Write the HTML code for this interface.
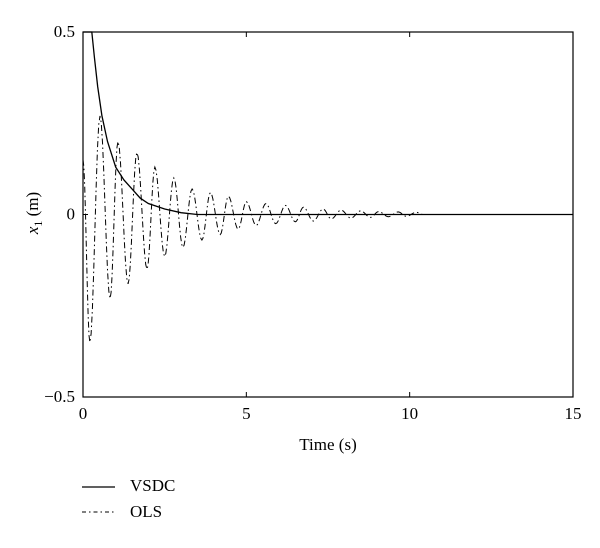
<!DOCTYPE html>
<html><head><meta charset="utf-8"><style>
body{margin:0;background:#fff}
svg text{font-family:"Liberation Serif",serif;font-size:17px;fill:#000}
</style></head><body>
<svg width="600" height="543" viewBox="0 0 600 543">
<g id="plot"></g>
<g id="axes"></g>
<text x="328" y="450" text-anchor="middle">Time (s)</text>
<text transform="translate(38,213) rotate(-90)" text-anchor="middle"><tspan font-style="italic">x</tspan><tspan font-size="12" dy="4">1</tspan><tspan dy="-4"> (m)</tspan></text>
<g>
<line x1="82" y1="487" x2="115" y2="487" stroke="#000" stroke-width="1.3"/>
<text x="130" y="491">VSDC</text>
<line x1="82" y1="512" x2="115" y2="512" stroke="#000" stroke-width="1" stroke-dasharray="4 3 1.5 3"/>
<text x="130" y="517">OLS</text>
</g>
</svg>
<script>
const xTicks=[0,5,10,15];
const yTicks=[0.5,0,-0.5];
const yTickLabels=["0.5","0","\u22120.5"];
const vsdcT=[0,0.27,0.35,0.45,0.58,0.75,1.0,1.25,1.5,1.75,2,2.5,3,3.5,15];
const vsdcV=[0.5,0.5,0.43,0.35,0.27,0.2,0.13,0.095,0.07,0.045,0.03,0.015,0.005,0,0];
const olsT=[0,0.21,0.52,0.83,1.07,1.38,1.65,1.96,2.2,2.5,2.78,3.06,3.34,3.64,3.9,4.2,4.45,4.75,5.0,5.3,5.6,5.9,6.2,6.5,6.75,7.05,7.35,7.6,7.9,8.2,8.5,8.8,9.05,9.35,9.65,9.9,10.2,10.4];
const olsV=[0.15,-0.35,0.27,-0.23,0.2,-0.19,0.17,-0.15,0.13,-0.115,0.1,-0.09,0.07,-0.07,0.06,-0.055,0.05,-0.04,0.035,-0.03,0.03,-0.025,0.025,-0.02,0.02,-0.018,0.015,-0.012,0.012,-0.01,0.01,-0.008,0.008,-0.006,0.007,-0.005,0.006,0];
const L=83,R=573,T=32,B=397;
const X=t=>L+(t-0)/(15-0)*(R-L);
const Y=v=>T+(0.5-v)/(1)*(B-T);
const NS="http://www.w3.org/2000/svg";
const plot=document.getElementById('plot'),axes=document.getElementById('axes');
function mk(tag,attrs,parent){const e=document.createElementNS(NS,tag);for(const k in attrs)e.setAttribute(k,attrs[k]);parent.appendChild(e);return e;}
let d=vsdcT.map((t,i)=>(i?'L':'M')+X(t).toFixed(2)+' '+Y(vsdcV[i]).toFixed(2)).join(' ');
const v=mk('path',{d:d,fill:'none',stroke:'#000','stroke-width':1.3},plot);


let pd='M'+X(olsT[0]).toFixed(2)+' '+Y(olsV[0]).toFixed(2);
for(let i=1;i<olsT.length;i++){const t0=olsT[i-1],t1=olsT[i],v0=olsV[i-1],v1=olsV[i];
for(let k=1;k<=8;k++){const f=k/8,s=(1-Math.cos(Math.PI*f))/2;pd+=' L'+X(t0+(t1-t0)*f).toFixed(2)+' '+Y(v0+(v1-v0)*s).toFixed(2);}}
const o=mk('path',{d:pd,fill:'none',stroke:'#000','stroke-width':1,'stroke-dasharray':'6 3 1.5 3'},plot);


const fr=mk('rect',{x:L,y:T,width:R-L,height:B-T,fill:'none',stroke:'#000','stroke-width':1.2},axes);


xTicks.forEach(t=>{
mk('line',{x1:X(t),y1:B,x2:X(t),y2:B-5,stroke:'#000'},axes);
mk('line',{x1:X(t),y1:T,x2:X(t),y2:T+5,stroke:'#000'},axes);
const tx=mk('text',{x:X(t),y:B+22,'text-anchor':'middle'},axes);tx.textContent=t;


});
yTicks.forEach((val,i)=>{
mk('line',{x1:L,y1:Y(val),x2:L+5,y2:Y(val),stroke:'#000'},axes);
mk('line',{x1:R,y1:Y(val),x2:R-5,y2:Y(val),stroke:'#000'},axes);
const tx=mk('text',{x:L-8,y:Y(val)+5,'text-anchor':'end'},axes);tx.textContent=yTickLabels[i];


});
</script>
</body></html>
